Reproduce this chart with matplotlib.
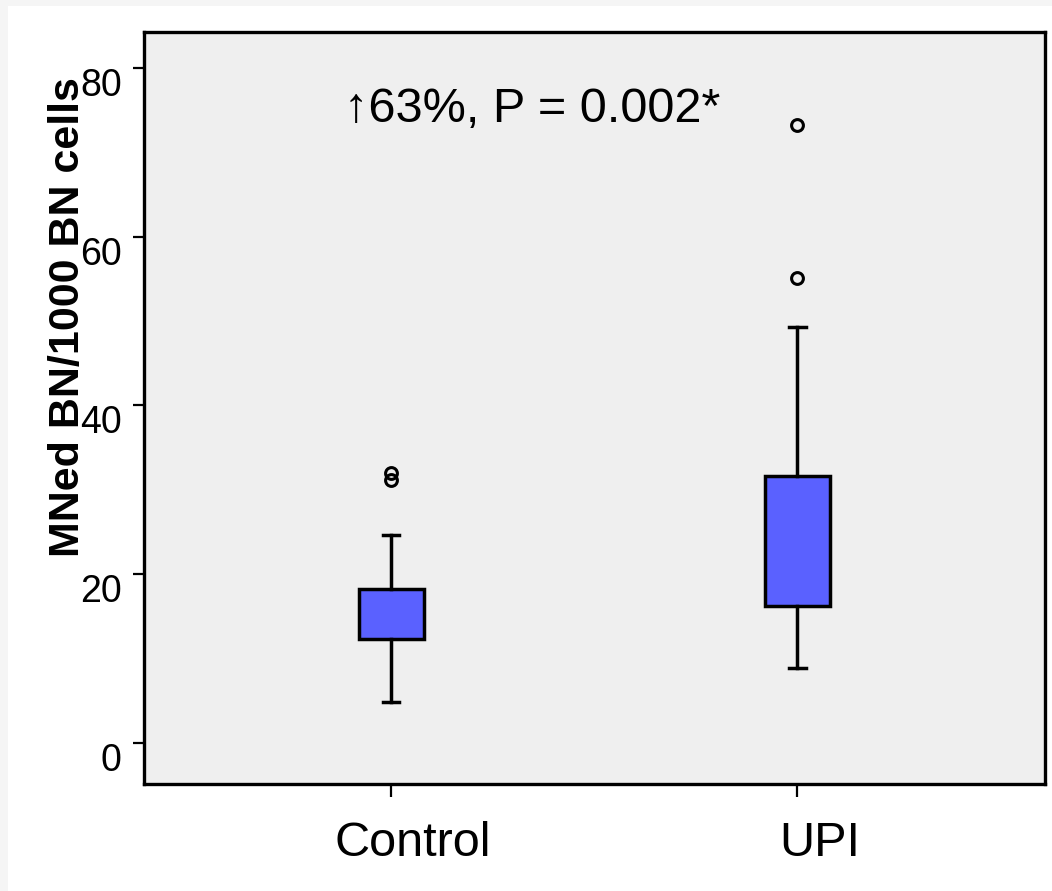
import matplotlib
matplotlib.use("Agg")
import matplotlib.pyplot as plt
from matplotlib.patches import Rectangle
from matplotlib.transforms import ScaledTranslation

plt.rcParams['font.family'] = ['Liberation Sans', 'DejaVu Sans']

# MNed BN per 1000 BN cells, summary statistics per group
groups = ["Control", "UPI"]
q1 = [12.3, 16.2]
q3 = [18.2, 31.6]
medians = [17.7, 24.0]
whisker_low = [4.9, 8.9]
whisker_high = [24.6, 49.3]
outliers = [[31.2, 32.0], [55.1, 73.2]]

box_color = "#5a61ff"

stats = []
for i, name in enumerate(groups):
    stats.append({
        "label": name,
        "q1": q1[i],
        "q3": q3[i],
        "med": medians[i],
        "whislo": whisker_low[i],
        "whishi": whisker_high[i],
        "fliers": outliers[i],
    })

fig = plt.figure(figsize=(10.52, 8.91), dpi=100, facecolor="#f5f5f5")
# white page with a thin grey margin on the top and left
fig.patches.append(Rectangle((8 / 1052, 0), 1, 1 - 6 / 891,
                             transform=fig.transFigure, facecolor="white",
                             edgecolor="none", zorder=-1))

ax = fig.add_axes([144 / 1052, 107 / 891, 901 / 1052, (784 - 31.7) / 891])
ax.set_facecolor("#efefef")

ax.bxp(stats, positions=[1, 2], widths=0.16, capwidths=0.04,
       patch_artist=True, showfliers=True,
       boxprops=dict(facecolor=box_color, edgecolor="black", linewidth=2.5),
       medianprops=dict(color=box_color, linewidth=0),
       whiskerprops=dict(color="black", linewidth=2.5),
       capprops=dict(color="black", linewidth=2.5),
       flierprops=dict(marker="o", markerfacecolor="none",
                       markeredgecolor="black", markersize=8.5,
                       markeredgewidth=2.2))

ax.set_xlim(0.392, 2.609)
ax.set_ylim(-4.86, 84.3)
ax.set_yticks([0, 20, 40, 60, 80])
ax.set_xticks([1, 2])
ax.set_xticklabels(groups)

for side in ["left", "right", "top", "bottom"]:
    ax.spines[side].set_linewidth(2.4)

ax.tick_params(axis="y", length=8, width=1.6, pad=8, labelsize=27)
ax.tick_params(axis="x", length=9, width=1.6, pad=18, labelsize=35)
for lab in ax.get_yticklabels():
    lab.set_va("top")
# category names sit a little right of their ticks
shift = ScaledTranslation(22 / 100, 0, fig.dpi_scale_trans)
for lab in ax.get_xticklabels():
    lab.set_transform(lab.get_transform() + shift)

ax.set_ylabel("MNed BN/1000 BN cells", fontsize=31, fontweight="bold")
ax.yaxis.set_label_coords(-0.084, 0.621)
ax.yaxis.label.set_va("center")

ax.text(0.431, 0.88, "\u219163%, P = 0.002*", transform=ax.transAxes,
        ha="center", va="baseline", fontsize=35)

fig.savefig("out.png", dpi=100, facecolor=fig.get_facecolor())
